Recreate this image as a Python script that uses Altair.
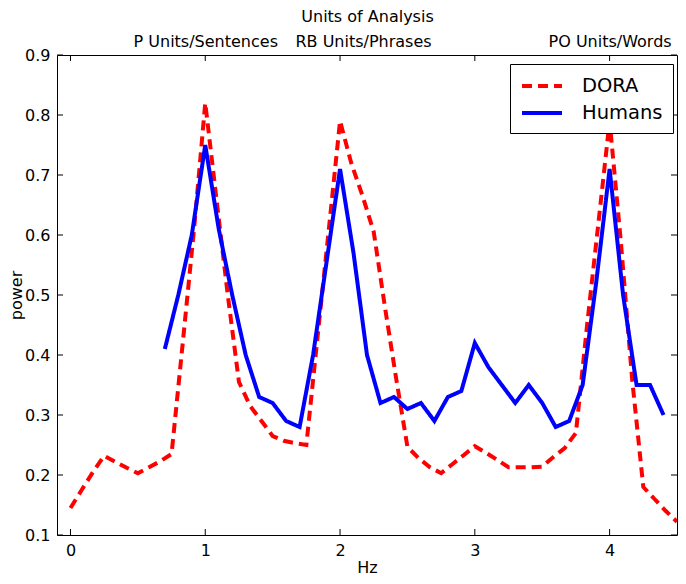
import altair as alt
import pandas as pd

# ---------------- data ----------------
dora_hz = [0.0, 0.083, 0.167, 0.25, 0.333, 0.417, 0.5, 0.583, 0.667, 0.75,
           0.833, 0.917, 1.0, 1.083, 1.167, 1.25, 1.333, 1.417, 1.5, 1.583,
           1.667, 1.75, 1.833, 1.917, 2.0, 2.083, 2.167, 2.25, 2.333, 2.417,
           2.5, 2.583, 2.667, 2.75, 2.833, 2.917, 3.0, 3.083, 3.167, 3.25,
           3.333, 3.417, 3.5, 3.583, 3.667, 3.75, 3.833, 3.917, 4.0, 4.083,
           4.167, 4.25, 4.333, 4.417, 4.5]
dora_power = [0.145, 0.175, 0.205, 0.232, 0.222, 0.212, 0.203, 0.213, 0.223, 0.235,
              0.42, 0.61, 0.82, 0.66, 0.50, 0.355, 0.315, 0.29, 0.265, 0.257,
              0.253, 0.25, 0.43, 0.61, 0.79, 0.72, 0.665, 0.605, 0.48, 0.36,
              0.247, 0.228, 0.213, 0.203, 0.218, 0.233, 0.248, 0.237, 0.225, 0.213,
              0.213, 0.213, 0.214, 0.23, 0.245, 0.27, 0.45, 0.62, 0.79, 0.59,
              0.36, 0.18, 0.16, 0.14, 0.122]

human_hz = [0.7, 0.8, 0.9, 1.0, 1.1, 1.2, 1.3, 1.4, 1.5, 1.6, 1.7, 1.8, 1.9,
            2.0, 2.1, 2.2, 2.3, 2.4, 2.5, 2.6, 2.7, 2.8, 2.9, 3.0, 3.1, 3.2,
            3.3, 3.4, 3.5, 3.6, 3.7, 3.8, 3.9, 4.0, 4.1, 4.2, 4.3, 4.4]
human_power = [0.41, 0.50, 0.60, 0.75, 0.61, 0.50, 0.40, 0.33, 0.32, 0.29, 0.28, 0.40, 0.555,
               0.71, 0.57, 0.40, 0.32, 0.33, 0.31, 0.32, 0.29, 0.33, 0.34, 0.42, 0.38, 0.35,
               0.32, 0.35, 0.32, 0.28, 0.29, 0.35, 0.52, 0.71, 0.50, 0.35, 0.35, 0.30]

series_names = ["DORA", "Humans"]
series_colors = ["#ff0000", "#0000ff"]
series_dashes = [[10, 6], [1, 0]]

x_tick_values = [0, 1, 2, 3, 4]
y_tick_values = [0.1, 0.2, 0.3, 0.4, 0.5, 0.6, 0.7, 0.8, 0.9]
top_tick_values = [1, 2, 3, 4]
top_tick_labels = ["P Units/Sentences", "RB Units/Phrases", "", "PO Units/Words"]

# ---------------- chart ----------------
W, H = 620, 480
FONT = "DejaVu Sans"
x_scale = alt.Scale(domain=[-0.1, 4.5], nice=False, zero=False)
y_scale = alt.Scale(domain=[0.1, 0.9], nice=False, zero=False)

lines_df = pd.DataFrame({
    "Hz": dora_hz + human_hz,
    "power": dora_power + human_power,
    "series": [series_names[0]] * len(dora_hz) + [series_names[1]] * len(human_hz),
})

legend = alt.Legend(
    title=None, orient="none", legendX=453, legendY=9,
    strokeColor="black", fillColor="white", padding=10, cornerRadius=0,
    symbolType="M-1,0H3", symbolSize=400, symbolStrokeWidth=4,
    labelFontSize=19.5, labelFont=FONT, labelColor="black", labelOffset=38,
    rowPadding=5,
)

lines = alt.Chart(lines_df).mark_line(strokeWidth=4, clip=True).encode(
    x=alt.X("Hz:Q", scale=x_scale,
            axis=alt.Axis(orient="bottom", values=x_tick_values, ticks=False, domain=False,
                          grid=False, labelPadding=7, title="Hz", titlePadding=1)),
    y=alt.Y("power:Q", scale=y_scale,
            axis=alt.Axis(values=y_tick_values, format=".1f", ticks=False, domain=False,
                          grid=False, labelPadding=7, title="power", titlePadding=0)),
    color=alt.Color("series:N", scale=alt.Scale(domain=series_names, range=series_colors),
                    legend=legend),
    strokeDash=alt.StrokeDash("series:N",
                              scale=alt.Scale(domain=series_names, range=series_dashes),
                              legend=legend),
)

label_expr = " : ".join(
    f"datum.value == {v} ? '{l}'" for v, l in zip(top_tick_values, top_tick_labels)
) + " : ''"

top_df = pd.DataFrame({"top": x_tick_values})
top_ticks = alt.Chart(top_df).mark_rule(color="black", strokeWidth=1).encode(
    x=alt.X("top:Q", scale=x_scale,
            axis=alt.Axis(orient="top", values=top_tick_values, labelExpr=label_expr,
                          ticks=False, domain=False, grid=False, labelPadding=6,
                          title="Units of Analysis", titlePadding=9,
                          labelOffset={"condition": {"test": "datum.value == 2", "value": 23},
                                       "value": 0})),
    y=alt.value(0), y2=alt.value(6),
)

bottom_df = pd.DataFrame({"bt": x_tick_values})
bottom_ticks = alt.Chart(bottom_df).mark_rule(color="black", strokeWidth=1).encode(
    x=alt.X("bt:Q", scale=x_scale, axis=None),
    y=alt.value(H), y2=alt.value(H - 6),
)

ytick_df = pd.DataFrame({"yt": y_tick_values})
left_ticks = alt.Chart(ytick_df).mark_rule(color="black", strokeWidth=1).encode(
    y=alt.Y("yt:Q", scale=y_scale, axis=None),
    x=alt.value(0), x2=alt.value(6),
)
right_ticks = alt.Chart(ytick_df).mark_rule(color="black", strokeWidth=1).encode(
    y=alt.Y("yt:Q", scale=y_scale, axis=None),
    x=alt.value(W), x2=alt.value(W - 6),
)

chart = alt.layer(lines, top_ticks, bottom_ticks, left_ticks, right_ticks).resolve_axis(
    x="independent", y="independent"
).properties(
    width=W, height=H,
    autosize=alt.AutoSizeParams(type="none"),
    padding={"left": 49, "top": 47, "right": 1, "bottom": 41},
).configure(
    font=FONT, background="white",
).configure_view(
    stroke="black", strokeWidth=1,
).configure_axis(
    labelFont=FONT, titleFont=FONT, labelFontSize=16, titleFontSize=16,
    labelColor="black", titleColor="black", titleFontWeight="normal",
)

chart.save("out.html", embed_options={"renderer": "svg", "actions": False})
